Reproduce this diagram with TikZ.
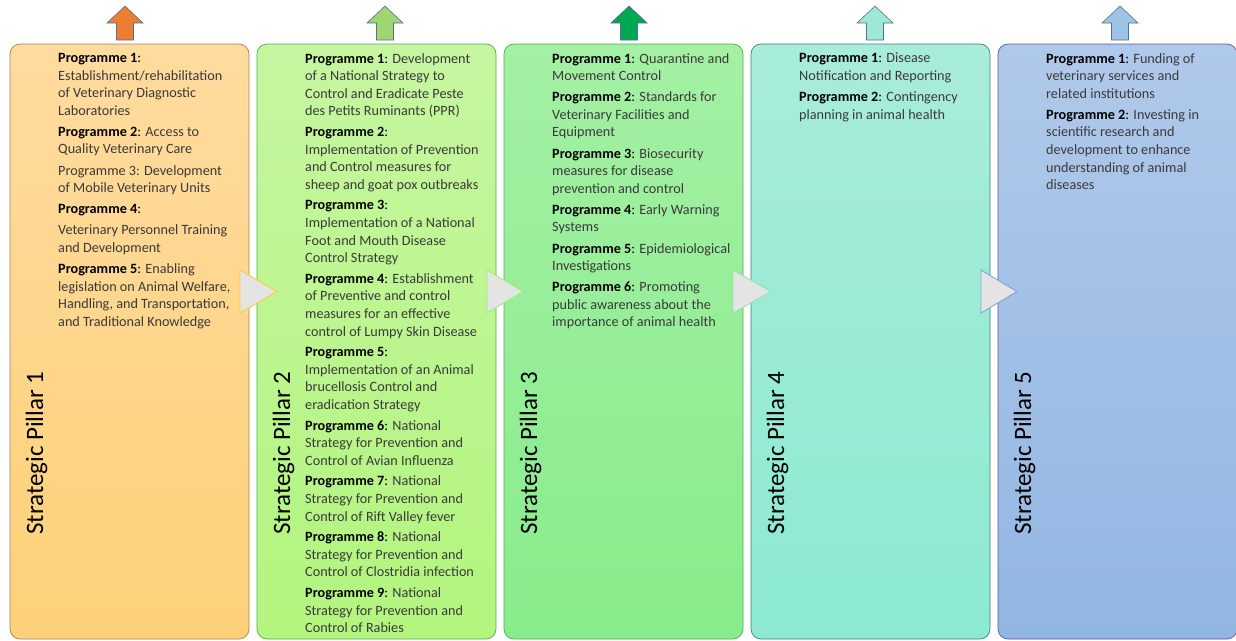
\documentclass[tikz,border=0pt]{standalone}
\usepackage{fontspec}
\setmainfont{Carlito}
\usepackage{tikz}

\definecolor{txtgray}{HTML}{3A3A3A}
\definecolor{edgegray}{HTML}{56708A}
\definecolor{trifill}{HTML}{E4E4E4}

\newcommand{\prg}[1]{\textcolor{black}{\textbf{Programme #1}:}}

\begin{document}
\begin{tikzpicture}[x=1pt,y=-1pt,
  pillar/.style={draw, rounded corners=10pt, minimum width=239pt, minimum height=595pt, inner sep=0pt, line width=0.7pt},
  progtext/.style={anchor=north west, align=left, inner sep=0pt, text=txtgray, font=\fontsize{14.2}{17.6}\selectfont},
  pillartitle/.style={rotate=90, anchor=base west, inner sep=0pt, font=\fontsize{25}{30}\selectfont},
  uparrow/.style={draw=edgegray, line width=0.6pt, line join=miter},
  chevron/.style={fill=trifill, line width=0.9pt, line join=miter}]
\useasboundingbox (0,0) rectangle (1236,640);

\node at (129.5,341.5) [pillar, draw=brown!60!gray, top color={rgb,255:red,255;green,219;blue,158}, bottom color={rgb,255:red,253;green,209;blue,122}] (pillar1) {};
\node at (376.5,341.5) [pillar, draw=green!35!gray, top color={rgb,255:red,198;green,246;blue,160}, bottom color={rgb,255:red,178;green,245;blue,126}] (pillar2) {};
\node at (623.5,341.5) [pillar, draw=green!40!gray, top color={rgb,255:red,164;green,240;blue,164}, bottom color={rgb,255:red,136;green,236;blue,140}] (pillar3) {};
\node at (870.5,341.5) [pillar, draw=teal!50!gray, top color={rgb,255:red,168;green,236;blue,218}, bottom color={rgb,255:red,140;green,234;blue,210}] (pillar4) {};
\node at (1117.5,341.5) [pillar, draw=blue!30!gray, top color={rgb,255:red,176;green,201;blue,234}, bottom color={rgb,255:red,146;green,182;blue,226}] (pillar5) {};

\draw[uparrow, fill={rgb,255:red,237;green,125;blue,49}] (125,6) -- ++(18,17) -- ++(-9.5,0) -- ++(0,17) -- ++(-17,0) -- ++(0,-17) -- ++(-9.5,0) -- cycle;
\draw[uparrow, fill={rgb,255:red,160;green,214;blue,114}] (385,6) -- ++(18,17) -- ++(-9.5,0) -- ++(0,17) -- ++(-17,0) -- ++(0,-17) -- ++(-9.5,0) -- cycle;
\draw[uparrow, fill={rgb,255:red,0;green,168;blue,80}] (629,6) -- ++(18,17) -- ++(-9.5,0) -- ++(0,17) -- ++(-17,0) -- ++(0,-17) -- ++(-9.5,0) -- cycle;
\draw[uparrow, fill={rgb,255:red,157;green,232;blue,214}] (875,6) -- ++(18,17) -- ++(-9.5,0) -- ++(0,17) -- ++(-17,0) -- ++(0,-17) -- ++(-9.5,0) -- cycle;
\draw[uparrow, fill={rgb,255:red,157;green,195;blue,230}] (1120,6) -- ++(18,17) -- ++(-9.5,0) -- ++(0,17) -- ++(-17,0) -- ++(0,-17) -- ++(-9.5,0) -- cycle;

\node at (43,535) [pillartitle] (title1) {Strategic Pillar 1};
\node at (290,535) [pillartitle] (title2) {Strategic Pillar 2};
\node at (537,535) [pillartitle] (title3) {Strategic Pillar 3};
\node at (784,535) [pillartitle] (title4) {Strategic Pillar 4};
\node at (1031,535) [pillartitle] (title5) {Strategic Pillar 5};

\node at (58,53) [progtext] (prog1) {\prg{1}\\ Establishment/rehabilitation\\ of Veterinary Diagnostic\\ Laboratories\\[3.5pt]
\prg{2} Access to\\ Quality Veterinary Care\\[3.5pt]
Programme 3: Development\\ of Mobile Veterinary Units\\[3.5pt]
\prg{4}\\[3.5pt]
Veterinary Personnel Training\\ and Development\\[3.5pt]
\prg{5} Enabling\\ legislation on Animal Welfare,\\ Handling, and Transportation,\\ and Traditional Knowledge};

\node at (305,53) [progtext] (prog2) {\prg{1} Development\\ of a National Strategy to\\ Control and Eradicate Peste\\ des Petits Ruminants (PPR)\\[3pt]
\prg{2}\\ Implementation of Prevention\\ and Control measures for\\ sheep and goat pox outbreaks\\[3pt]
\prg{3}\\ Implementation of a National\\ Foot and Mouth Disease\\ Control Strategy\\[3pt]
\prg{4} Establishment\\ of Preventive and control\\ measures for an effective\\ control of Lumpy Skin Disease\\[3pt]
\prg{5}\\ Implementation of an Animal\\ brucellosis Control and\\ eradication Strategy\\[3pt]
\prg{6} National\\ Strategy for Prevention and\\ Control of Avian Influenza\\[3pt]
\prg{7} National\\ Strategy for Prevention and\\ Control of Rift Valley fever\\[3pt]
\prg{8} National\\ Strategy for Prevention and\\ Control of Clostridia infection\\[3pt]
\prg{9} National\\ Strategy for Prevention and\\ Control of Rabies};

\node at (552,53) [progtext] (prog3) {\prg{1} Quarantine and\\ Movement Control\\[3.5pt]
\prg{2} Standards for\\ Veterinary Facilities and\\ Equipment\\[3.5pt]
\prg{3} Biosecurity\\ measures for disease\\ prevention and control\\[3.5pt]
\prg{4} Early Warning\\ Systems\\[3.5pt]
\prg{5} Epidemiological\\ Investigations\\[3.5pt]
\prg{6} Promoting\\ public awareness about the\\ importance of animal health};

\node at (799,53) [progtext] (prog4) {\prg{1} Disease\\ Notification and Reporting\\[3.5pt]
\prg{2} Contingency\\ planning in animal health};

\node at (1046,53) [progtext] (prog5) {\prg{1} Funding of\\ veterinary services and\\ related institutions\\[3.5pt]
\prg{2} Investing in\\ scientific research and\\ development to enhance\\ understanding of animal\\ diseases};

\draw[chevron, draw={rgb,255:red,255;green,200;blue,56}] (240,270) -- (277,291.5) -- (240,313) -- cycle;
\draw[chevron, draw={rgb,255:red,166;green,236;blue,120}] (487,270) -- (523,291.5) -- (487,313) -- cycle;
\draw[chevron, draw={rgb,255:red,142;green,230;blue,182}] (733,270) -- (771,291.5) -- (733,313) -- cycle;
\draw[chevron, draw={rgb,255:red,127;green,166;blue,218}] (981,270) -- (1017,291.5) -- (981,313) -- cycle;
\end{tikzpicture}
\end{document}
